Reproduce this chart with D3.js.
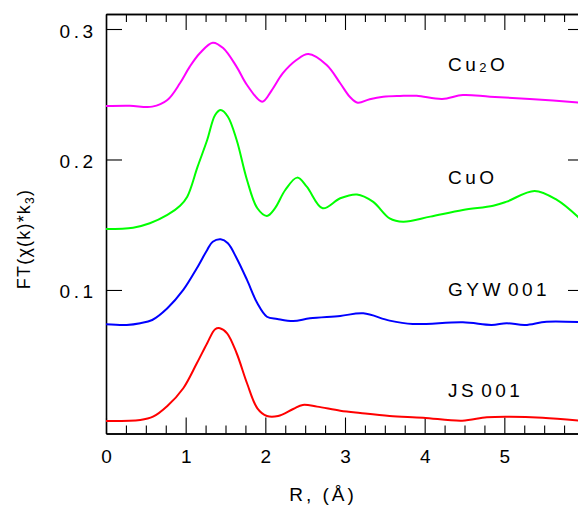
<!DOCTYPE html>
<html>
<head>
<meta charset="utf-8">
<script src="https://cdn.jsdelivr.net/npm/d3@7/dist/d3.min.js"></script>
<style>
  body { margin: 0; background: #fff; }
  svg { display: block; font-family: "Liberation Sans", Arial, sans-serif; }
</style>
</head>
<body>
<div id="chart"></div>
<script>
// FT magnitudes, [R (Å), FT]
var cu2oData = [[0,0.241],[0.3,0.2412],[0.58,0.2405],[0.77,0.2456],[0.93,0.2586],[1.05,0.271],[1.18,0.2816],
  [1.34,0.2895],[1.47,0.2854],[1.64,0.271],[1.77,0.2571],[1.96,0.2443],[2.08,0.253],[2.22,0.2661],[2.39,0.2762],
  [2.54,0.2808],[2.77,0.2724],[2.94,0.2584],[3.06,0.2481],[3.16,0.2435],[3.31,0.2462],[3.48,0.2481],[3.69,0.2487],
  [3.9,0.2488],[4.22,0.2464],[4.48,0.2494],[4.82,0.2481],[5.32,0.2464],[6.0,0.2434]];

var cuoData = [[0,0.1467],[0.34,0.1477],[0.55,0.1511],[0.77,0.1575],[0.93,0.1646],[1.02,0.1715],[1.15,0.1945],
  [1.27,0.2149],[1.37,0.2341],[1.44,0.2379],[1.53,0.2328],[1.64,0.2149],[1.77,0.1843],[1.9,0.1626],[2.02,0.1567],
  [2.12,0.1625],[2.25,0.1766],[2.4,0.1861],[2.52,0.1792],[2.72,0.1626],[2.94,0.1703],[3.15,0.1732],[3.35,0.1677],
  [3.56,0.1549],[3.73,0.1523],[4.07,0.1562],[4.48,0.1613],[4.86,0.1646],[5.03,0.1677],[5.38,0.1759],[5.66,0.169],
  [5.92,0.1562],[6.0,0.151]];

var gywData = [[0,0.0737],[0.26,0.0732],[0.43,0.0745],[0.58,0.077],[0.77,0.086],[0.97,0.1],[1.14,0.1166],
  [1.27,0.1307],[1.34,0.137],[1.44,0.1389],[1.53,0.1358],[1.64,0.1243],[1.77,0.1077],[1.9,0.0898],[2.02,0.0795],
  [2.15,0.0778],[2.35,0.0762],[2.56,0.0783],[2.94,0.0801],[3.23,0.0821],[3.56,0.0765],[3.85,0.0739],[4.48,0.0752],
  [4.84,0.0732],[5.03,0.0745],[5.26,0.0732],[5.53,0.0757],[6.0,0.0752]];

var jsData = [[0,-0.0004],[0.43,0.0004],[0.59,0.0029],[0.77,0.0111],[0.97,0.0247],[1.14,0.0438],[1.27,0.0592],
  [1.37,0.0699],[1.43,0.0707],[1.52,0.0668],[1.64,0.0515],[1.77,0.0285],[1.9,0.0093],[2.02,0.0034],[2.16,0.0034],
  [2.35,0.0088],[2.47,0.0119],[2.65,0.0106],[2.94,0.0075],[3.19,0.0057],[3.56,0.0034],[3.98,0.0021],[4.47,-0.0002],
  [4.78,0.0025],[5.07,0.0029],[5.48,0.0021],[6.0,-0.0004]];

var seriesNames = ["Cu2O", "CuO", "GYW001", "JS001"];
var seriesColors = ["#ff00ff", "#00ff00", "#0000ff", "#ff0000"];
var seriesLabelY = [0.2679, 0.1813, 0.0951, 0.0180];   // label baselines, data units
var xMajorTicks = [0, 1, 2, 3, 4, 5, 6];
var yMajorTicks = [0.1, 0.2, 0.3];

var allSeries = [cu2oData, cuoData, gywData, jsData];

var W = 578, H = 507;
var margin = {top: 14, left: 106};
var innerW = 478, innerH = 419.5;

var svg = d3.select("#chart").append("svg")
    .attr("width", W)
    .attr("height", H);

var g = svg.append("g")
    .attr("transform", "translate(" + margin.left + "," + margin.top + ")");

var x = d3.scaleLinear().domain([0, 6]).range([0, innerW]);
var y = d3.scaleLinear().domain([-0.01, 0.3115]).range([innerH, 0]);

var minorX = d3.range(0, 6.001, 0.25).filter(function(d) { return d % 1 !== 0; });

function styleAxis(sel) {
    sel.select(".domain").attr("stroke", "#000").attr("stroke-width", 1.6);
    sel.selectAll(".tick line").attr("stroke", "#000").attr("stroke-width", 1.1);
    sel.selectAll(".tick text")
        .attr("fill", "#000")
        .style("font-size", "19px")
        .style("font-family", "'Liberation Sans', Arial, sans-serif")
        .style("letter-spacing", "3.5px");
}

// bottom
g.append("g").attr("transform", "translate(0," + innerH + ")")
    .call(d3.axisBottom(x).tickValues(minorX).tickSize(-8).tickSizeOuter(0).tickFormat(""))
    .call(styleAxis);
var xAx = g.append("g").attr("transform", "translate(0," + innerH + ")")
    .call(d3.axisBottom(x).tickValues(xMajorTicks).tickSize(-16).tickSizeOuter(0)
        .tickFormat(function(d) { return d < 6 ? d3.format("d")(d) : ""; }))
    .call(styleAxis);
xAx.selectAll(".tick text").attr("y", 29.5).attr("dy", null).attr("dx", "1.75px");

// top
g.append("g")
    .call(d3.axisTop(x).tickValues(minorX).tickSize(-8).tickSizeOuter(0).tickFormat(""))
    .call(styleAxis);
g.append("g")
    .call(d3.axisTop(x).tickValues(xMajorTicks).tickSize(-16).tickSizeOuter(0).tickFormat(""))
    .call(styleAxis);

// left
var yAx = g.append("g")
    .call(d3.axisLeft(y).tickValues(yMajorTicks).tickSize(-16).tickSizeOuter(0)
        .tickFormat(d3.format(".1f")))
    .call(styleAxis);
yAx.selectAll(".tick text").attr("x", -9.5).attr("y", 8).attr("dy", null);

// right
g.append("g").attr("transform", "translate(" + innerW + ",0)")
    .call(d3.axisRight(y).tickValues(yMajorTicks).tickSize(-16).tickSizeOuter(0).tickFormat(""))
    .call(styleAxis);

var line = d3.line()
    .x(function(d) { return x(d[0]); })
    .y(function(d) { return y(d[1]); })
    .curve(d3.curveCatmullRom.alpha(0.5));

g.selectAll(".series")
    .data(allSeries)
    .enter().append("path")
    .attr("class", "series")
    .attr("fill", "none")
    .attr("stroke", function(d, i) { return seriesColors[i]; })
    .attr("stroke-width", 2)
    .attr("d", line);

// series labels
var labels = g.selectAll(".lbl")
    .data(seriesNames)
    .enter().append("text")
    .attr("class", "lbl")
    .attr("x", 342)
    .attr("y", function(d, i) { return y(seriesLabelY[i]); })
    .style("font-size", "19px")
    .style("letter-spacing", "3.5px")
    .attr("fill", "#000");

labels.each(function(d) {
    var t = d3.select(this);
    if (d === "Cu2O") {
        t.append("tspan").text("Cu");
        t.append("tspan").text("2").style("font-size", "13px").attr("dy", 1);
        t.append("tspan").text("O").attr("dy", -1);
    } else {
        var m = d.match(/^([A-Za-z]+)(\d*)$/);
        t.append("tspan").text(m[1]);
        if (m[2]) t.append("tspan").attr("dx", 4).text(m[2]);
    }
});

// axis titles
svg.append("text")
    .attr("x", 323)
    .attr("y", 501)
    .attr("text-anchor", "middle")
    .style("font-size", "19px")
    .style("letter-spacing", "3px")
    .text("R, (Å)");

var yt = svg.append("text")
    .attr("transform", "translate(29.5,239) rotate(-90)")
    .attr("text-anchor", "middle")
    .style("font-size", "18px")
    .style("letter-spacing", "1.2px");
yt.append("tspan").text("FT(χ(k)*k");
yt.append("tspan").text("3").style("font-size", "12px").attr("dy", 4);
yt.append("tspan").text(")").attr("dy", -4);
</script>
</body>
</html>
